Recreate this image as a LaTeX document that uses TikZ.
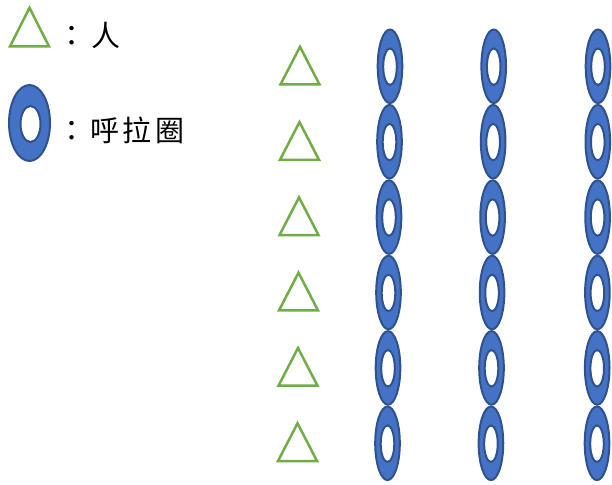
\documentclass[tikz,border=0pt]{standalone}
\usepackage{fontspec}
\newfontfamily\cjk{Noto Sans CJK TC}
\definecolor{ringfill}{HTML}{4472C4}
\definecolor{ringline}{HTML}{2F528F}
\definecolor{persongreen}{HTML}{70AD47}
\tikzset{
  ringshape/.style={fill=ringfill, draw=ringline, line width=2pt, even odd rule},
  person/.style={draw=persongreen, line width=2.5pt, line join=miter},
  legendtext/.style={font=\cjk\fontsize{29}{29}\selectfont, inner sep=0pt, anchor=west, text=black}
}
\begin{document}
\begin{tikzpicture}[x=1pt,y=-1pt]
\useasboundingbox (0,0) rectangle (612,484);
% legend
\draw[person] (29.5,7.8) -- (49,46.4) -- (10,46.4) -- cycle;
\node[legendtext] (lperson) at (57.5,35) {：\hspace{5pt}人};
\path[ringshape] (29.5,123) ellipse [x radius=20.5, y radius=38]
                 (30.5,124) ellipse [x radius=10, y radius=18];
\node[legendtext] (lring) at (57.5,130) {：\hspace{3.5pt}呼\hspace{3.5pt}拉\hspace{3.5pt}圈};
% people column
\foreach \i in {0,...,5}{
  \pgfmathsetmacro{\c}{300-0.5*\i}
  \pgfmathsetmacro{\a}{44+75.3*\i}
  \draw[person] (\c,\a+2.8) -- (\c+19.5,\a+40.5) -- (\c-19.5,\a+40.5) -- cycle;
}
% ring columns
\foreach \i in {0,...,5}{
  \pgfmathsetmacro{\y}{66.3+75.4*\i}
  \foreach \x/\d in {390/0.5, 493.7/0.55, 598/0.2}{
    \pgfmathsetmacro{\cx}{\x-\d*\i}
    \path[ringshape] (\cx,\y) ellipse [x radius=12.3, y radius=36.8]
                     (\cx,\y+0.4) ellipse [x radius=6.8, y radius=18.3];
  }
}
\end{tikzpicture}
\end{document}
